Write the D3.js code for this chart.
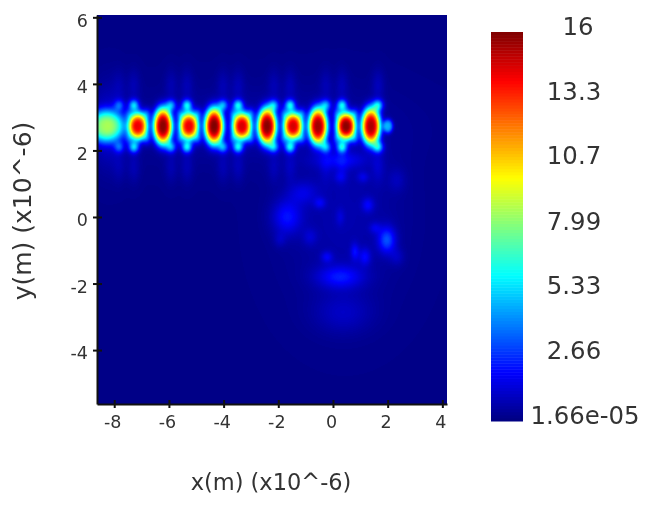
<!DOCTYPE html>
<html><head><meta charset="utf-8">
<script src="https://cdn.jsdelivr.net/npm/d3@7"></script>
<style>
html,body{margin:0;padding:0;background:#fff;width:653px;height:505px;overflow:hidden}
#wrap{position:relative;width:653px;height:505px}
canvas{position:absolute;left:97px;top:15px;filter:blur(.6px)}
svg{position:absolute;left:0;top:0}
text{font-family:"DejaVu Sans",sans-serif;fill:#333;filter:blur(.45px)}
</style></head><body><div id="wrap"></div>
<script>
// Axis ticks and labels
const xTicks=[-8,-6,-4,-2,0,2,4];
const yTicks=[-4,-2,0,2,4,6];
const legendLabels=["1.66e-05","2.66","5.33","7.99","10.7","13.3","16"];
const legendValues=[0,2.66,5.33,7.99,10.7,13.3,16];
const xTitle="x(m) (x10^-6)";
const yTitle="y(m) (x10^-6)";
// Field maxima along the guide (x, value, half-widths), in micrometres
const guideY=2.73;
const waveX=[-8.30,-7.13,-6.22,-5.27,-4.35,-3.33,-2.41,-1.46,-0.55,0.48,1.39,2.01];
const waveValue=[7.2,13.8,15.4,13.8,15.4,14.0,15.2,14.0,14.8,15.2,14.8,4.4];
const waveWX=[0.50,0.25,0.245,0.25,0.245,0.25,0.245,0.25,0.245,0.25,0.245,0.13];
const waveWY=[0.34,0.29,0.39,0.29,0.39,0.29,0.39,0.29,0.39,0.29,0.39,0.15];
// Side lobes above and below the guide
const lobeX=[-7.82,-7.28,-5.92,-5.34,-4.02,-3.47,-2.16,-1.57,-0.26,0.33,1.65];
const lobeUpperY=3.36, lobeLowerY=2.10;
const lobeValue=[2.6,4.8,3.8,5.2,3.8,5.2,3.8,5.2,3.8,5.2,4.6];
const lobeWX=0.13, lobeWY=0.12;
// Faint vertical streaks continuing each lobe away from the guide
const streakUpperY=3.95, streakLowerY=1.5;
const streakValue=[0.4,0.6,0.55,0.6,0.55,0.6,0.55,0.6,0.55,0.6,0.7];
const streakWX=0.16, streakWY=0.34;
// Corners of the square maxima
const flareX=[-7.46,-6.80,-5.60,-4.94,-3.66,-3.00,-1.79,-1.13,0.15,0.81];
const flareUpperY=3.10, flareLowerY=2.36;
const flareValue=[1.8,2.2,2.2,2.2,2.2,2.2,2.2,2.2,2.2,2.2];
const flareWX=0.11, flareWY=0.13;
// Diffuse glow and scattered patches below the guide
const patchX=[-3,-1.68,1.97,0.26,-0.48,1.28,-0.22,0.80,1.17,-1.10,1.10,0.26,0.37,0.26,-0.84,0.26,1.54,2.34,-1.94,2.34,0.44,-8.2];
const patchY=[2.73,0,-0.69,-1.80,0.42,0.36,-1.2,-1.05,-1.2,0.72,1.2,1.71,-2.89,1.2,-0.6,0,-0.33,-1.2,-0.69,1.11,0.06,2.73];
const patchValue=[0.5,1.9,2.8,1.9,1.2,1.4,1.3,1.5,1.5,1.1,1.0,1.3,0.8,0.8,0.8,0.7,1.0,0.7,0.6,0.6,0.6,1.2];
const patchWX=[3.2,0.37,0.22,0.58,0.15,0.15,0.15,0.11,0.15,0.37,0.15,0.66,0.73,0.15,0.18,0.11,0.15,0.18,0.15,0.22,1.46,0.4];
const patchWY=[0.75,0.36,0.27,0.24,0.12,0.15,0.12,0.18,0.18,0.24,0.12,0.18,0.42,0.12,0.18,0.18,0.12,0.18,0.15,0.24,1.8,0.8];
const backgroundValue=0.14;
const colorStops=["#00007f","#0000ff","#00ffff","#ffff00","#ff0000","#7f0000"];
const colorPositions=[0,0.125,0.375,0.625,0.875,1];

const W=653,H=505,L=97,R=447,T=15,B=404;
const x=d3.scaleLinear().domain([-8.63,4.17]).range([L,R]);
const y=d3.scaleLinear().domain([6.07,-5.62]).range([T,B]);
const color=d3.scaleLinear().domain(colorPositions.map(p=>p*16)).range(colorStops).clamp(true);

const wrap=d3.select("#wrap");
const cv=wrap.append("canvas").attr("width",R-L).attr("height",B-T);
const ctx=cv.node().getContext("2d");
const img=ctx.createImageData(R-L,B-T);
const gauss=(ux,uy,cx,cy,wx,wy)=>{const dx=(ux-cx)/wx,dy=(uy-cy)/wy;return Math.exp(-(dx*dx+dy*dy)/2);};
function fieldAt(ux,uy){
  let sum=backgroundValue;
  waveX.forEach((cx,i)=>{
    const dx=(ux-cx)/waveWX[i],dy=(uy-guideY)/waveWY[i];
    sum+=waveValue[i]*Math.exp(-Math.pow((dx*dx+dy*dy)/2,1.5));
  });
  lobeX.forEach((cx,i)=>{
    sum+=lobeValue[i]*(gauss(ux,uy,cx,lobeUpperY,lobeWX,lobeWY)+gauss(ux,uy,cx,lobeLowerY,lobeWX,lobeWY));
    sum+=streakValue[i]*(gauss(ux,uy,cx,streakUpperY,streakWX,streakWY)+gauss(ux,uy,cx,streakLowerY,streakWX,streakWY));
  });
  flareX.forEach((cx,i)=>{
    sum+=flareValue[i]*(gauss(ux,uy,cx,flareUpperY,flareWX,flareWY)+gauss(ux,uy,cx,flareLowerY,flareWX,flareWY));
  });
  patchX.forEach((cx,i)=>{
    sum+=patchValue[i]*gauss(ux,uy,cx,patchY[i],patchWX[i],patchWY[i]);
  });
  return sum;
}
const memo=d3.range(257).map(i=>d3.rgb(color(i/16)));
for(let j=0;j<B-T;j++)for(let i=0;i<R-L;i++){
  const v=fieldAt(x.invert(L+i+.5),y.invert(T+j+.5));
  const c=memo[Math.min(256,Math.max(0,Math.round(v*16)))];
  const k=(j*(R-L)+i)*4;
  img.data[k]=c.r;img.data[k+1]=c.g;img.data[k+2]=c.b;img.data[k+3]=255;
}
ctx.putImageData(img,0,0);

const svg=wrap.append("svg").attr("width",W).attr("height",H);
const gx=svg.append("g").attr("transform",`translate(0,${B})`)
  .call(d3.axisBottom(x).tickValues(xTicks).tickSizeOuter(0).tickFormat(d=>String(d)));
const gy=svg.append("g").attr("transform",`translate(${L},0)`)
  .call(d3.axisLeft(y).tickValues(yTicks).tickSizeOuter(0).tickFormat(d=>String(d)));
[gx,gy].forEach(g=>{
  g.select(".domain").attr("stroke","#111").attr("stroke-width",2);
  g.selectAll(".tick text").style("font-size","17.5px").attr("font-family",null);
});
gx.selectAll(".tick line").attr("y1",-4).attr("y2",4).attr("stroke","#111").attr("stroke-width",2);
gy.selectAll(".tick line").attr("x1",-4).attr("x2",5).attr("stroke","#111").attr("stroke-width",2);
gx.selectAll(".tick text").attr("y",12).attr("dx","-2");
gy.selectAll(".tick text").attr("x",-9).attr("dy","0.5em");
svg.append("text").attr("x",271).attr("y",490).attr("text-anchor","middle").style("font-size","22.5px").text(xTitle);
svg.append("text").attr("transform","translate(31,211) rotate(-90)").attr("text-anchor","middle").style("font-size","25px").text(yTitle);

// Colour bar
const barX=491,barW=32,barT=32,barB=421;
const barY=d3.scaleLinear().domain([0,16]).range([barB,barT]);
const levels=d3.range(0,16,16/128);
svg.append("g").selectAll("rect").data(levels).join("rect")
  .attr("x",barX).attr("width",barW)
  .attr("y",d=>barY(d+16/128)).attr("height",d=>barY(d)-barY(d+16/128)+.5)
  .attr("fill",d=>color(d+8/128));
const legendY=d3.scaleLinear().domain([0,16]).range([415,26]);
svg.append("g").selectAll("text").data(legendLabels).join("text")
  .attr("x",(d,i)=>i===0?585:i===6?578:574)
  .attr("y",(d,i)=>legendY(legendValues[i])).attr("dy","0.36em")
  .attr("text-anchor","middle").style("font-size","24.4px").text(d=>d);
</script></body></html>
